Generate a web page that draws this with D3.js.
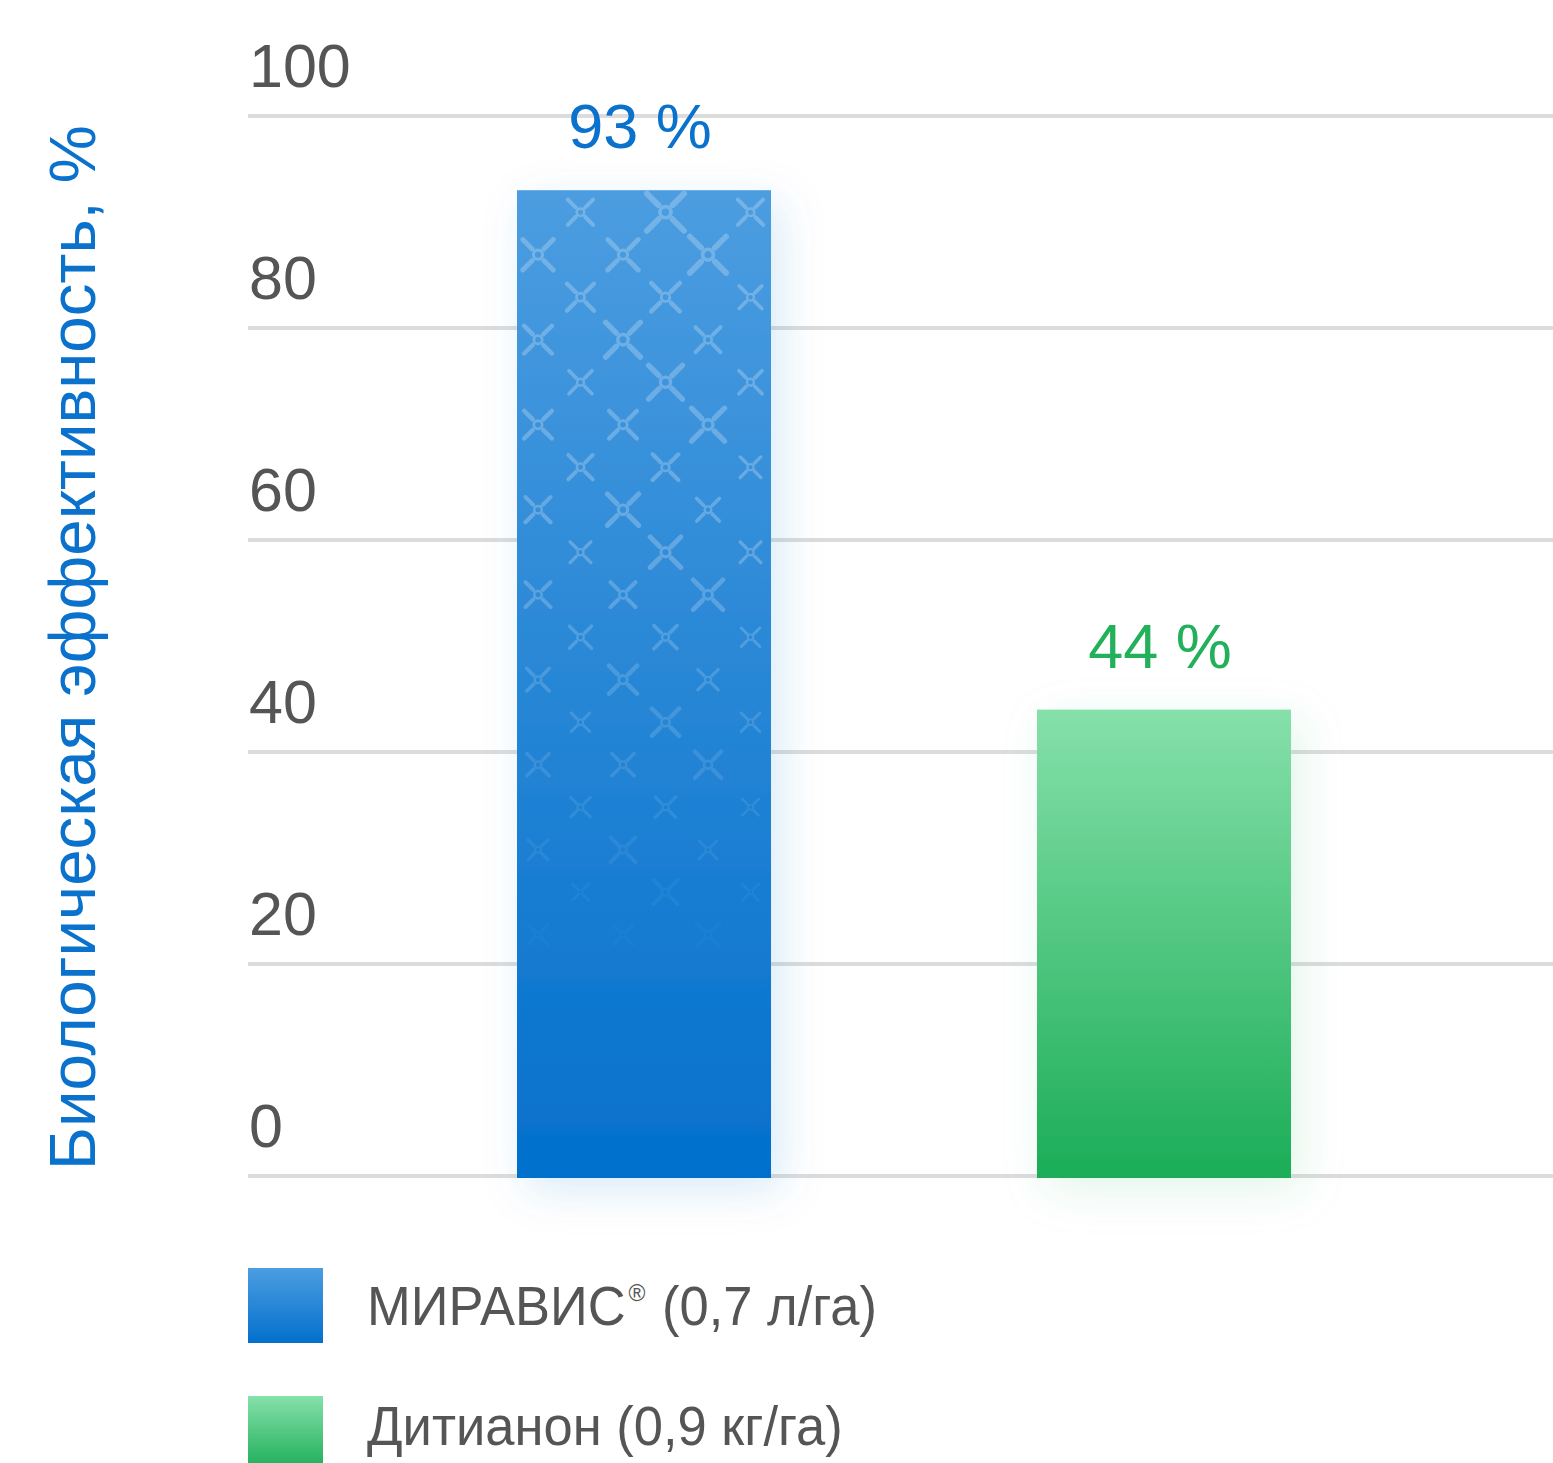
<!DOCTYPE html>
<html>
<head>
<meta charset="UTF-8">
<title>Биологическая эффективность</title>
<script src="https://cdnjs.cloudflare.com/ajax/libs/d3/7.9.0/d3.min.js"></script>
<style>
    html, body { margin: 0; padding: 0; background: #fff; }
    svg { display: block; font-family: "Liberation Sans", Arial, sans-serif; }
</style>
</head>
<body>
<div id="chart"></div>
<script>
// data
var categories = ['МИРАВИС', 'Дитианон'];
var values = [93, 44];
var valueLabels = ['93 %', '44 %'];
var legendNames = ['МИРАВИС', 'Дитианон'];
var legendMarks = ['\u00AE', ''];
var legendRates = [' (0,7 л/га)', ' (0,9 кг/га)'];
var ticks = [0, 20, 40, 60, 80, 100];
var axisTitle = 'Биологическая эффективность, %';

var W = 1553, H = 1463;
var svg = d3.select('#chart').append('svg').attr('width', W).attr('height', H);
var defs = svg.append('defs');

var colors = [
    {top: '#4c9de0', bottom: '#0370cc', text: '#0a72cc', glow: '#1f78d0'},
    {top: '#86e0aa', bottom: '#1bad57', text: '#22b05a', glow: '#3cc070'}
];

colors.forEach(function(c, i){
    var g = defs.append('linearGradient').attr('id', 'grad' + i)
        .attr('x1', 0).attr('y1', 0).attr('x2', 0).attr('y2', 1);
    g.append('stop').attr('offset', '0%').attr('stop-color', c.top);
    g.append('stop').attr('offset', '100%').attr('stop-color', c.bottom);
    var f = defs.append('filter').attr('id', 'glow' + i)
        .attr('x', '-40%').attr('y', '-20%').attr('width', '180%').attr('height', '140%');
    f.append('feDropShadow').attr('dx', 10).attr('dy', 12).attr('stdDeviation', 22)
        .attr('flood-color', c.glow).attr('flood-opacity', 0.15);
});

var y = d3.scaleLinear().domain([0, 100]).range([1176, 116]);
var x = d3.scaleBand().domain(categories).range([257, 1551])
    .paddingInner(0.5115).paddingOuter(0.5);

// grid
svg.append('g').selectAll('line').data(ticks).enter().append('line')
    .attr('x1', 248).attr('x2', W)
    .attr('y1', d => y(d)).attr('y2', d => y(d))
    .attr('stroke', '#dcdcdc').attr('stroke-width', 4);

svg.append('g').selectAll('text').data(ticks).enter().append('text')
    .attr('x', 249).attr('y', d => y(d) - 29)
    .attr('fill', '#555').attr('font-size', 61)
    .text(d => d);

// axis title
svg.append('text')
    .attr('transform', 'translate(95,1170) rotate(-90)')
    .attr('fill', '#0a72cc').attr('font-size', 64)
    .attr('textLength', 1045).attr('lengthAdjust', 'spacingAndGlyphs')
    .text(axisTitle);

// bars
var bars = svg.append('g');
categories.forEach(function(c, i){
    bars.append('rect')
        .attr('x', x(c)).attr('width', x.bandwidth())
        .attr('y', y(values[i])).attr('height', y(0) - y(values[i]) + 2)
        .attr('fill', 'url(#grad' + i + ')')
        .attr('filter', 'url(#glow' + i + ')');
    svg.append('text')
        .attr('x', x(c) + x.bandwidth() / 2 - 4).attr('y', y(values[i]) - 42)
        .attr('text-anchor', 'middle').attr('fill', colors[i].text)
        .attr('font-size', 63).text(valueLabels[i]);
});

// decorative cross pattern on first bar
var bx = x(categories[0]), bw = x.bandwidth(), btop = y(values[0]);
var step = 42.5;
defs.append('clipPath').attr('id', 'clipBar').append('rect')
    .attr('x', bx).attr('y', btop).attr('width', bw).attr('height', y(0) - btop);
var pat = svg.append('g').attr('clip-path', 'url(#clipBar)');
var sizes = [0.85, 1.25, 0.85, 1.05, 1.05, 1.25, 0.95, 1.0, 0.8, 1.0, 1.25, 0.9];
var k = 0;
for (var r = 0; r < 18; r++) {
    var cy = btop + 22 + r * step;
    var fade = Math.max(0, 1 - (cy - btop) / 780);
    if (fade <= 0.03) continue;
    for (var cI = 0; cI < 6; cI++) {
        if ((r + cI) % 2 !== 1) continue;
        var cx = bx + 21 + cI * step;
        var s = sizes[k++ % sizes.length] * (0.6 + 0.4 * fade) * 15;
        var g = pat.append('g').attr('transform', 'translate(' + cx + ',' + cy + ')')
            .attr('stroke', '#fff').attr('fill', 'none')
            .attr('opacity', 0.24 * Math.min(1, fade * 1.8))
            .attr('stroke-linecap', 'round').attr('stroke-width', s * 0.32);
        [[1, 1], [1, -1], [-1, 1], [-1, -1]].forEach(function(d){
            g.append('line').attr('x1', d[0] * s * 0.38).attr('y1', d[1] * s * 0.38)
                .attr('x2', d[0] * s).attr('y2', d[1] * s);
        });
        g.append('circle').attr('r', s * 0.3).attr('stroke-width', s * 0.2);
    }
}

// legend
var legend = svg.append('g');
var legendBase = [1325, 1445];
legendNames.forEach(function(l, i){
    var ly = 1268 + i * 128;
    legend.append('rect').attr('x', 248).attr('y', ly).attr('width', 75).attr('height', 75)
        .attr('fill', 'url(#grad' + i + ')');
    var t = legend.append('text').attr('x', 367).attr('y', legendBase[i])
        .attr('fill', '#555').attr('font-size', 55)
        .attr('transform', 'translate(367,0) scale(0.955,1) translate(-367,0)');
    t.append('tspan').text(l);
    if (legendMarks[i]) {
        t.append('tspan').attr('font-size', 24).attr('dx', 3).attr('dy', -24).text(legendMarks[i]);
        t.append('tspan').attr('dx', 2).attr('dy', 24).text(legendRates[i]);
    } else {
        t.append('tspan').text(legendRates[i]);
    }
});
</script>
</body>
</html>
